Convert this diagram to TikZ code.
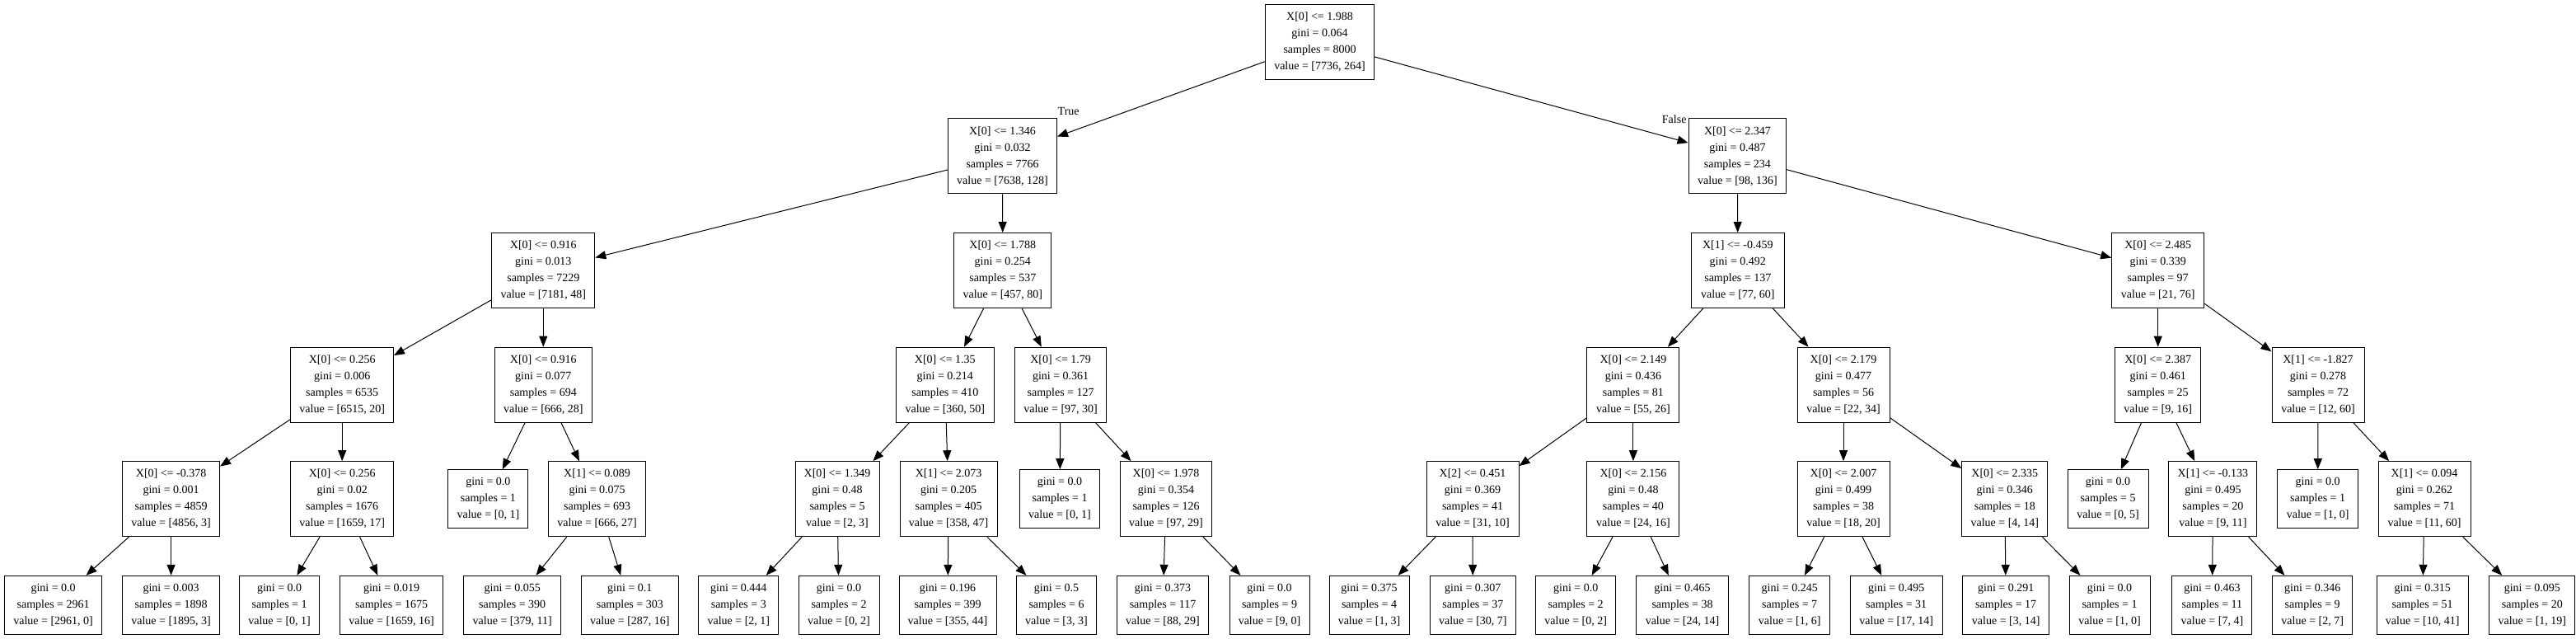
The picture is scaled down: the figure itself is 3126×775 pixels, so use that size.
\documentclass[tikz,border=0pt]{standalone}
\usepackage{fontspec}
\setmainfont{Liberation Serif}
\usetikzlibrary{arrows.meta}
\tikzset{
  box/.style={draw=black, line width=1pt, inner sep=0pt, minimum height=91pt, align=center, font=\fontsize{14}{20}\selectfont},
  leaf/.style={box, minimum height=71pt},
  edge/.style={line width=1pt, -{Triangle[length=13pt,width=10pt]}},
  lbl/.style={inner sep=0pt, font=\fontsize{14}{20}\selectfont}
}
\begin{document}
\begin{tikzpicture}[x=1pt,y=-1pt]
\useasboundingbox[fill=white] (0,0) rectangle (3126,775);
% level 0
\node[box, minimum width=132pt] (n0) at (1601.5,50.8) {X[0] <= 1.988\\gini = 0.064\\samples = 8000\\value = [7736, 264]};
% level 1
\node[box, minimum width=132pt] (n1) at (1216.5,189.5) {X[0] <= 1.346\\gini = 0.032\\samples = 7766\\value = [7638, 128]};
\node[box, minimum width=118.7pt] (n2) at (2108.4,189.5) {X[0] <= 2.347\\gini = 0.487\\samples = 234\\value = [98, 136]};
% level 2
\node[box, minimum width=125pt] (n3) at (659.3,328) {X[0] <= 0.916\\gini = 0.013\\samples = 7229\\value = [7181, 48]};
\node[box, minimum width=118pt] (n4) at (1216.8,328) {X[0] <= 1.788\\gini = 0.254\\samples = 537\\value = [457, 80]};
\node[box, minimum width=112.5pt] (n5) at (2108.8,328) {X[1] <= -0.459\\gini = 0.492\\samples = 137\\value = [77, 60]};
\node[box, minimum width=112pt] (n6) at (2618.7,328) {X[0] <= 2.485\\gini = 0.339\\samples = 97\\value = [21, 76]};
% level 3
\node[box, minimum width=124.6pt] (n7) at (415.2,466.7) {X[0] <= 0.256\\gini = 0.006\\samples = 6535\\value = [6515, 20]};
\node[box, minimum width=118.5pt] (n8) at (659.3,466.7) {X[0] <= 0.916\\gini = 0.077\\samples = 694\\value = [666, 28]};
\node[box, minimum width=118.5pt] (n9) at (1146.8,466.7) {X[0] <= 1.35\\gini = 0.214\\samples = 410\\value = [360, 50]};
\node[box, minimum width=111pt] (n10) at (1287.1,466.7) {X[0] <= 1.79\\gini = 0.361\\samples = 127\\value = [97, 30]};
\node[box, minimum width=112pt] (n11) at (1981.9,466.7) {X[0] <= 2.149\\gini = 0.436\\samples = 81\\value = [55, 26]};
\node[box, minimum width=112pt] (n12) at (2237,466.7) {X[0] <= 2.179\\gini = 0.477\\samples = 56\\value = [22, 34]};
\node[box, minimum width=104pt] (n13) at (2618.7,466.7) {X[0] <= 2.387\\gini = 0.461\\samples = 25\\value = [9, 16]};
\node[box, minimum width=112pt] (n14) at (2813,466.7) {X[1] <= -1.827\\gini = 0.278\\samples = 72\\value = [12, 60]};
% level 4
\node[box, minimum width=118pt] (n15) at (207.6,605.2) {X[0] <= -0.378\\gini = 0.001\\samples = 4859\\value = [4856, 3]};
\node[box, minimum width=124.6pt] (n16) at (415.2,605.2) {X[0] <= 0.256\\gini = 0.02\\samples = 1676\\value = [1659, 17]};
\node[leaf, minimum width=97pt] (n17) at (592.4,605.2) {gini = 0.0\\samples = 1\\value = [0, 1]};
\node[box, minimum width=118pt] (n18) at (724.6,605.2) {X[1] <= 0.089\\gini = 0.075\\samples = 693\\value = [666, 27]};
\node[box, minimum width=102pt] (n19) at (1016,605.2) {X[0] <= 1.349\\gini = 0.48\\samples = 5\\value = [2, 3]};
\node[box, minimum width=118pt] (n20) at (1151.1,605.2) {X[1] <= 2.073\\gini = 0.205\\samples = 405\\value = [358, 47]};
\node[leaf, minimum width=97pt] (n21) at (1286,605.2) {gini = 0.0\\samples = 1\\value = [0, 1]};
\node[box, minimum width=111pt] (n22) at (1415,605.2) {X[0] <= 1.978\\gini = 0.354\\samples = 126\\value = [97, 29]};
\node[box, minimum width=112pt] (n23) at (1787,605.2) {X[2] <= 0.451\\gini = 0.369\\samples = 41\\value = [31, 10]};
\node[box, minimum width=112pt] (n24) at (1981.9,605.2) {X[0] <= 2.156\\gini = 0.48\\samples = 40\\value = [24, 16]};
\node[box, minimum width=112pt] (n25) at (2237,605.2) {X[0] <= 2.007\\gini = 0.499\\samples = 38\\value = [18, 20]};
\node[box, minimum width=104pt] (n26) at (2432.8,605.2) {X[0] <= 2.335\\gini = 0.346\\samples = 18\\value = [4, 14]};
\node[leaf, minimum width=98pt] (n27) at (2558,605.2) {gini = 0.0\\samples = 5\\value = [0, 5]};
\node[box, minimum width=107pt] (n28) at (2685.4,605.2) {X[1] <= -0.133\\gini = 0.495\\samples = 20\\value = [9, 11]};
\node[leaf, minimum width=98pt] (n29) at (2812.6,605.2) {gini = 0.0\\samples = 1\\value = [1, 0]};
\node[box, minimum width=112pt] (n30) at (2942,605.2) {X[1] <= 0.094\\gini = 0.262\\samples = 71\\value = [11, 60]};
% level 5
\node[leaf, minimum width=118.5pt] (l1) at (64.6,733.8) {gini = 0.0\\samples = 2961\\value = [2961, 0]};
\node[leaf, minimum width=118pt] (l2) at (207.6,733.8) {gini = 0.003\\samples = 1898\\value = [1895, 3]};
\node[leaf, minimum width=97pt] (l3) at (339.1,733.8) {gini = 0.0\\samples = 1\\value = [0, 1]};
\node[leaf, minimum width=125pt] (l4) at (475.1,733.8) {gini = 0.019\\samples = 1675\\value = [1659, 16]};
\node[leaf, minimum width=118.5pt] (l5) at (621.7,733.8) {gini = 0.055\\samples = 390\\value = [379, 11]};
\node[leaf, minimum width=118.5pt] (l6) at (764.3,733.8) {gini = 0.1\\samples = 303\\value = [287, 16]};
\node[leaf, minimum width=97pt] (l7) at (896.3,733.8) {gini = 0.444\\samples = 3\\value = [2, 1]};
\node[leaf, minimum width=98pt] (l8) at (1018,733.8) {gini = 0.0\\samples = 2\\value = [0, 2]};
\node[leaf, minimum width=118pt] (l9) at (1150,733.8) {gini = 0.196\\samples = 399\\value = [355, 44]};
\node[leaf, minimum width=97pt] (l10) at (1282,733.8) {gini = 0.5\\samples = 6\\value = [3, 3]};
\node[leaf, minimum width=111pt] (l11) at (1411,733.8) {gini = 0.373\\samples = 117\\value = [88, 29]};
\node[leaf, minimum width=97pt] (l12) at (1540.5,733.8) {gini = 0.0\\samples = 9\\value = [9, 0]};
\node[leaf, minimum width=97pt] (l13) at (1661.5,733.8) {gini = 0.375\\samples = 4\\value = [1, 3]};
\node[leaf, minimum width=104.6pt] (l14) at (1787.3,733.8) {gini = 0.307\\samples = 37\\value = [30, 7]};
\node[leaf, minimum width=97pt] (l15) at (1912.2,733.8) {gini = 0.0\\samples = 2\\value = [0, 2]};
\node[leaf, minimum width=112pt] (l16) at (2041.5,733.8) {gini = 0.465\\samples = 38\\value = [24, 14]};
\node[leaf, minimum width=97.7pt] (l17) at (2171.7,733.8) {gini = 0.245\\samples = 7\\value = [1, 6]};
\node[leaf, minimum width=111.6pt] (l18) at (2301.2,733.8) {gini = 0.495\\samples = 31\\value = [17, 14]};
\node[leaf, minimum width=104.5pt] (l19) at (2434.2,733.8) {gini = 0.291\\samples = 17\\value = [3, 14]};
\node[leaf, minimum width=98pt] (l20) at (2560,733.8) {gini = 0.0\\samples = 1\\value = [1, 0]};
\node[leaf, minimum width=97pt] (l21) at (2684.4,733.8) {gini = 0.463\\samples = 11\\value = [7, 4]};
\node[leaf, minimum width=97pt] (l22) at (2806.2,733.8) {gini = 0.346\\samples = 9\\value = [2, 7]};
\node[leaf, minimum width=111.4pt] (l23) at (2939.7,733.8) {gini = 0.315\\samples = 51\\value = [10, 41]};
\node[leaf, minimum width=104pt] (l24) at (3072.8,733.8) {gini = 0.095\\samples = 20\\value = [1, 19]};
% edge labels
\node[lbl] (tl) at (1296.7,135) {True};
\node[lbl] (fl) at (2031.7,145) {False};
% edges
\foreach \p/\c in {n0/n1,n0/n2,n1/n3,n1/n4,n2/n5,n2/n6,n3/n7,n3/n8,n4/n9,n4/n10,n5/n11,n5/n12,n6/n13,n6/n14,
  n7/n15,n7/n16,n8/n17,n8/n18,n9/n19,n9/n20,n10/n21,n10/n22,n11/n23,n11/n24,n12/n25,n12/n26,n13/n27,n13/n28,n14/n29,n14/n30,
  n15/l1,n15/l2,n16/l3,n16/l4,n18/l5,n18/l6,n19/l7,n19/l8,n20/l9,n20/l10,n22/l11,n22/l12,n23/l13,n23/l14,n24/l15,n24/l16,
  n25/l17,n25/l18,n26/l19,n26/l20,n28/l21,n28/l22,n30/l23,n30/l24}
  \draw[edge] (\p) -- (\c);
\end{tikzpicture}
\end{document}
